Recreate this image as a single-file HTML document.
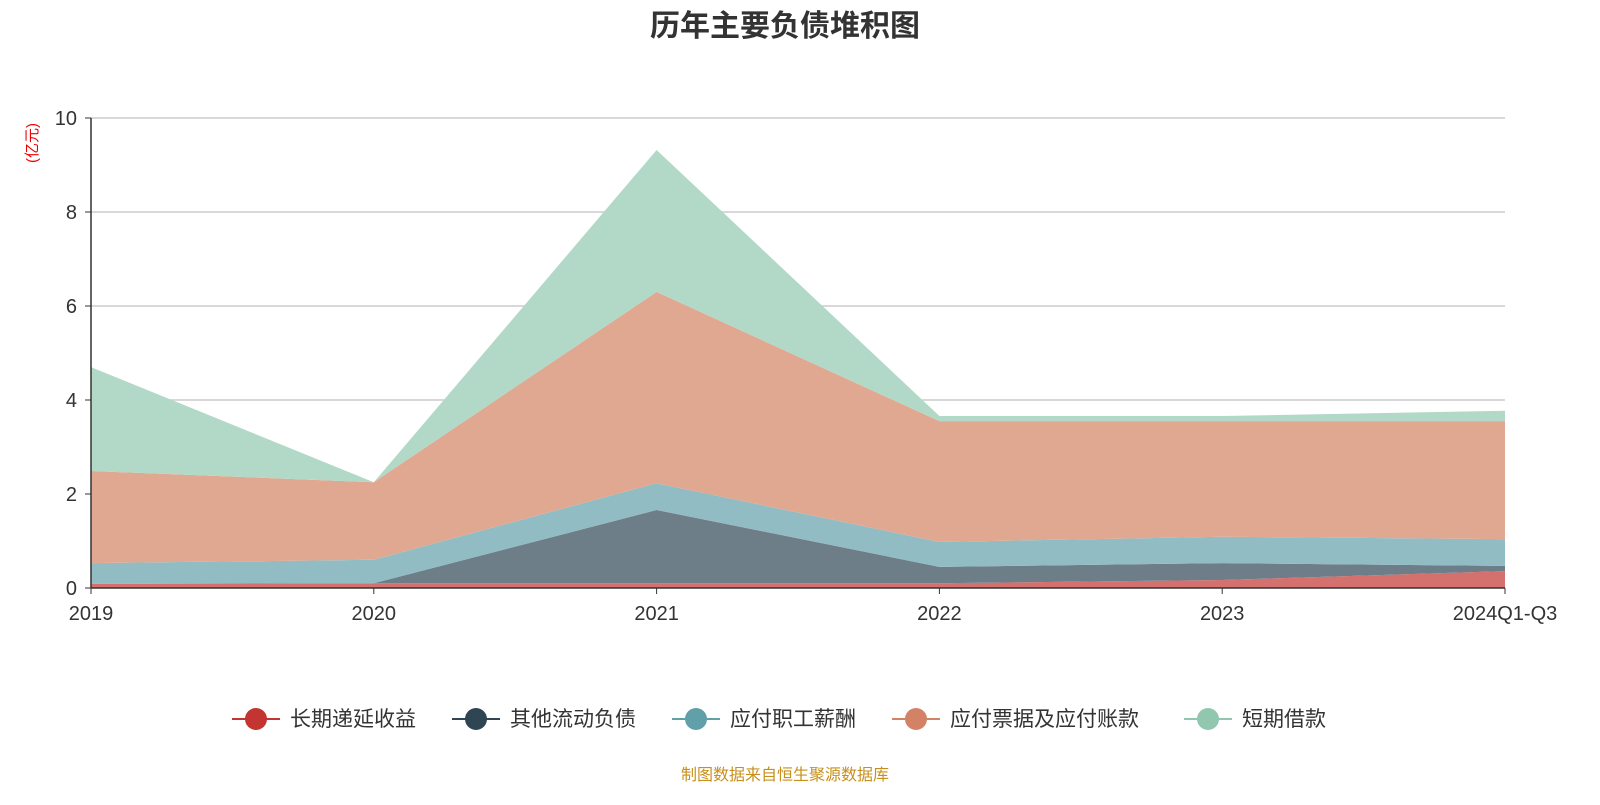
<!DOCTYPE html>
<html><head><meta charset="utf-8"><style>
body{margin:0;background:#fff;font-family:"Liberation Sans","Noto Sans CJK SC",sans-serif;}
svg text{font-family:"Liberation Sans","Noto Sans CJK SC",sans-serif;}
</style></head><body>
<svg id="chart" width="1600" height="800" xmlns="http://www.w3.org/2000/svg">
<text x="785" y="36" text-anchor="middle" font-size="30" font-weight="bold" fill="#333">历年主要负债堆积图</text>
<text transform="translate(37,143) rotate(-90)" text-anchor="middle" font-size="15" fill="#e00">(亿元)</text>
<g id="grid"></g><g id="areas"></g><g id="axes"></g><g id="legend"></g>
<text x="785" y="780" text-anchor="middle" font-size="16" fill="#c8901a">制图数据来自恒生聚源数据库</text>
</svg>
<script>
const categories=["2019","2020","2021","2022","2023","2024Q1-Q3"];
const seriesNames=["长期递延收益","其他流动负债","应付职工薪酬","应付票据及应付账款","短期借款"];
const longDeferred=[0.09,0.10,0.10,0.10,0.17,0.36];
const otherCurrent=[0.00,0.00,1.56,0.35,0.36,0.11];
const payroll=[0.44,0.50,0.57,0.53,0.56,0.57];
const payables=[1.96,1.65,4.07,2.57,2.46,2.51];
const shortLoans=[2.21,0.00,3.02,0.11,0.11,0.22];
const yTicks=[0,2,4,6,8,10];
const lineColors=["#c23531","#2f4554","#61a0a8","#d48265","#91c7ae"];
const fillColors=["#d4706e","#6e7e89","#91bcc3","#e0a891","#b2d9c8"];
const NS="http://www.w3.org/2000/svg";
const x0=91,x1=1505,y0=588,y1=118,yMax=10;
const xs=i=>x0+(x1-x0)*i/(categories.length-1);
const ys=v=>y0-(y0-y1)*v/yMax;
function mk(tag,attrs,parent){const e=document.createElementNS(NS,tag);for(const k in attrs)e.setAttribute(k,attrs[k]);parent.appendChild(e);return e;}
const grid=document.getElementById('grid'),axes=document.getElementById('axes'),areas=document.getElementById('areas'),legend=document.getElementById('legend');
yTicks.forEach(t=>{
 if(t>0){const l=mk('line',{x1:x0,x2:x1,y1:ys(t),y2:ys(t),stroke:'#ccc','stroke-width':1.5},grid);
 
 }
 const tx=mk('text',{x:x0-14,y:ys(t)+7,'text-anchor':'end','font-size':20,fill:'#333'},axes);tx.textContent=t;
 
 
 const tk=mk('line',{x1:x0-6,x2:x0,y1:ys(t),y2:ys(t),stroke:'#333'},axes);
 
 
});
const all=[longDeferred,otherCurrent,payroll,payables,shortLoans];
let base=categories.map(()=>0);
all.forEach((s,k)=>{
 const top=base.map((b,i)=>b+s[i]);
 let d='M'+top.map((v,i)=>xs(i)+','+ys(v)).join(' L');
 for(let i=categories.length-1;i>=0;i--)d+=' L'+xs(i)+','+ys(base[i]);
 const p=mk('path',{d:d+'Z',fill:fillColors[k]},areas);
 
 
 base=top;
});
const ax=mk('line',{x1:x0,x2:x0,y1:y1,y2:y0,stroke:'#333','stroke-width':1.5},axes);


const bx=mk('line',{x1:x0,x2:x1,y1:y0,y2:y0,stroke:'#333','stroke-width':1.5},axes);


categories.forEach((c,i)=>{
 const t=mk('text',{x:xs(i),y:y0+32,'text-anchor':'middle','font-size':20,fill:'#333'},axes);t.textContent=c;
 
 
 const tk=mk('line',{x1:xs(i),x2:xs(i),y1:y0,y2:y0+6,stroke:'#333'},axes);
 
 
});
const lx=[232,452,672,892,1184];
seriesNames.forEach((n,k)=>{
 const g=mk('g',{},legend);
 
 
 mk('line',{x1:lx[k],x2:lx[k]+48,y1:719,y2:719,stroke:lineColors[k],'stroke-width':2},g);
 mk('circle',{cx:lx[k]+24,cy:719,r:11,fill:lineColors[k]},g);
 const t=mk('text',{x:lx[k]+58,y:726,'font-size':21,fill:'#333'},g);t.textContent=n;
});
</script>
</body></html>
